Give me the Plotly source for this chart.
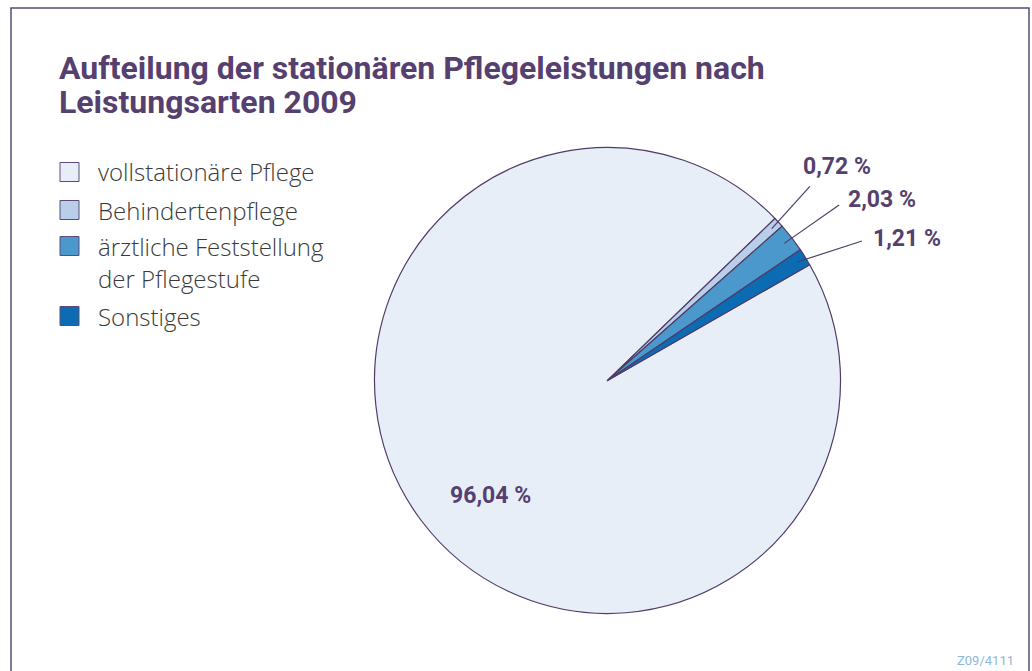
import math
import plotly.graph_objects as go

# ---- data ----
categories = ["vollstationäre Pflege", "Behindertenpflege",
              "ärztliche Feststellung<br>der Pflegestufe", "Sonstiges"]
values = [96.04, 0.72, 2.03, 1.21]
value_labels = ["96,04 %", "0,72 %", "2,03 %", "1,21 %"]
colors = ["#e8eef8", "#b9cfe9", "#4b98cc", "#0b6cb3"]

title_lines = ["Aufteilung der stationären Pflegeleistungen nach",
               "Leistungsarten 2009"]
footer_text = "Z09/4111"

# ---- layout constants ----
W, H = 1032, 671
CX, CY, R = 607.5, 380.5, 233.0   # pie centre / radius in px
ROT = 60.2                        # start angle, degrees clockwise from 12 o'clock
PURPLE = "#55406f"
FONT = "Roboto"
LEG_FONT = "Open Sans"

fig = go.Figure()
fig.add_trace(go.Pie(
    labels=categories, values=values, sort=False, direction="clockwise",
    rotation=ROT, textinfo="none", hoverinfo="label+percent",
    marker=dict(colors=colors, line=dict(color="#4f3c68", width=1.2)),
    domain=dict(x=[(CX - R) / W, (CX + R) / W],
                y=[(H - CY - R) / H, (H - CY + R) / H]),
    showlegend=False,
))

def px(x, y):
    return x / W, 1 - y / H

shapes = []
annotations = []

# frame
shapes.append(dict(type="rect", xref="paper", yref="paper",
                   x0=11 / W, x1=1029 / W, y0=-0.05, y1=1 - 8 / H,
                   line=dict(color="#5b4a7c", width=1.5)))

# value labels computed from slice angles
total = sum(values)
cum = 0.0
leader_dirs = [None, 48, 35, 18]      # direction of leader lines (deg)
leader_lens = [None, 57, 67, 68]
text_dx = [0, -9, 7, 9]               # label offset from anchor (px)
text_dy = [14, -20, -5, -3]
for i, v in enumerate(values):
    a0 = ROT + cum / total * 360
    cum += v
    a1 = ROT + cum / total * 360
    mid = (a0 + a1) / 2               # compass angle
    if i == 0:
        rr = 0.71 * R
        ang = math.radians(mid - 8)
        x = CX + rr * math.sin(ang) + text_dx[i]
        y = CY - rr * math.cos(ang) + text_dy[i]
        xx, yy = px(x, y)
        annotations.append(dict(x=xx, y=yy, xref="paper", yref="paper",
                                text="<b>" + value_labels[i] + "</b>", showarrow=False,
                                font=dict(family=FONT, size=23, color=PURPLE)))
        continue
    ang = math.radians(mid)
    sx = CX + 0.96 * R * math.sin(ang)
    sy = CY - 0.96 * R * math.cos(ang)
    d = math.radians(leader_dirs[i])
    ex = sx + leader_lens[i] * math.cos(d)
    ey = sy - leader_lens[i] * math.sin(d)
    x0, y0 = px(sx, sy)
    x1, y1 = px(ex, ey)
    shapes.append(dict(type="line", xref="paper", yref="paper",
                       x0=x0, y0=y0, x1=x1, y1=y1,
                       line=dict(color="#4f3c68", width=1.2)))
    lx, ly = px(ex + text_dx[i], ey + text_dy[i])
    annotations.append(dict(x=lx, y=ly, xref="paper", yref="paper",
                            xanchor="left", yanchor="middle",
                            text="<b>" + value_labels[i] + "</b>", showarrow=False,
                            font=dict(family=FONT, size=23, color=PURPLE)))

# manual legend
legend_rows = [172, 210, 246, 316]
for i, cat in enumerate(categories):
    yc = legend_rows[i]
    x0, y0 = px(60, yc - 9.5)
    x1, y1 = px(79, yc + 9.5)
    shapes.append(dict(type="rect", xref="paper", yref="paper",
                       x0=x0, x1=x1, y0=y1, y1=y0, fillcolor=colors[i],
                       line=dict(color="#5b4a7c", width=1)))
    for j, line in enumerate(cat.split("<br>")):
        tx, ty = px(96, yc + 32 * j)
        annotations.append(dict(x=tx, y=ty, xref="paper", yref="paper",
                                xanchor="left", yanchor="middle", align="left",
                                text=line, showarrow=False,
                                font=dict(family=LEG_FONT, size=24, weight=300,
                                          color="#3a3a3a")))

# title (two lines, 34 px apart)
for j, line in enumerate(title_lines):
    tx, ty = px(57, 68 + 34 * j)
    annotations.append(dict(x=tx, y=ty, xref="paper", yref="paper",
                            xanchor="left", yanchor="middle", align="left",
                            text="<b>" + line + "</b>", showarrow=False,
                            font=dict(family=FONT, size=32, color=PURPLE)))
# footer
fx, fy = px(1016, 660)
annotations.append(dict(x=fx, y=fy, xref="paper", yref="paper",
                        xanchor="right", yanchor="middle",
                        text=footer_text, showarrow=False,
                        font=dict(family=FONT, size=13, color="#8fb6dc")))

fig.update_layout(width=W, height=H, margin=dict(l=0, r=0, t=0, b=0),
                  paper_bgcolor="white", plot_bgcolor="white",
                  shapes=shapes, annotations=annotations)
fig.write_html("out.html", config={"displayModeBar": False},
               post_script="document.body.style.margin='0';document.body.style.overflow='hidden';")
